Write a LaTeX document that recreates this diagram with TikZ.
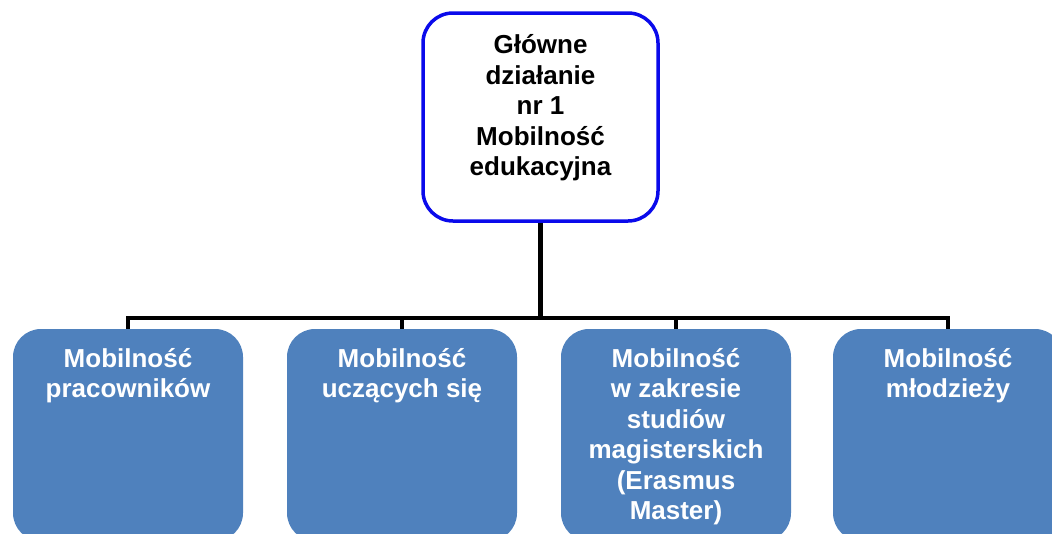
\documentclass[tikz,border=0pt]{standalone}
\usepackage{fontspec}
\setmainfont{Liberation Sans}
\usetikzlibrary{positioning}
\definecolor{ramka}{RGB}{10,10,235}
\definecolor{wypelnienie}{RGB}{79,129,189}

\begin{document}
\begin{tikzpicture}[x=1pt,y=-1pt,
    glowny/.style={draw=ramka,line width=3.5pt,fill=white,rounded corners=30pt,
        minimum width=235pt,minimum height=208pt,inner sep=0pt},
    skrzynka/.style={fill=wypelnienie,rounded corners=28pt,
        minimum width=230pt,minimum height=212pt,inner sep=0pt},
    napis/.style={font=\fontsize{26}{30.5}\selectfont\bfseries,align=center,
        anchor=north,inner sep=0pt},
    linia/.style={line width=4.5pt}]
    % ramka obrazka
    \useasboundingbox (0,0) rectangle (1052,533);
    \clip (0,0) rectangle (1052,533);

    % dzialanie glowne
    \node[glowny] (glowne) at (540.5,117) {};
    \node[napis,text=black] (glowne-t) at ([yshift=-23pt]glowne.north)
        {Główne\\działanie\\nr 1\\Mobilność\\edukacyjna};

    % cztery rodzaje mobilnosci
    \node[skrzynka] (pracownicy) at (128,435) {};
    \node[skrzynka] (uczacy) at (402,435) {};
    \node[skrzynka] (magister) at (676,435) {};
    \node[skrzynka] (mlodziez) at (948,435) {};

    \node[napis,text=white] (pracownicy-t) at ([yshift=-19pt]pracownicy.north)
        {Mobilność\\pracowników};
    \node[napis,text=white] (uczacy-t) at ([yshift=-19pt]uczacy.north)
        {Mobilność\\uczących się};
    \node[napis,text=white] (magister-t) at ([yshift=-19pt]magister.north)
        {Mobilność\\w zakresie\\studiów\\magisterskich\\(Erasmus\\Master)};
    \node[napis,text=white] (mlodziez-t) at ([yshift=-19pt]mlodziez.north)
        {Mobilność\\młodzieży};

    % polaczenia
    \coordinate (szyna) at (540,318);
    \draw[linia] (glowne.south) -- (glowne.south |- szyna);
    \foreach \n in {pracownicy,uczacy,magister,mlodziez}
        \draw[linia] (glowne.south |- szyna) -| (\n.north);
\end{tikzpicture}
\end{document}
